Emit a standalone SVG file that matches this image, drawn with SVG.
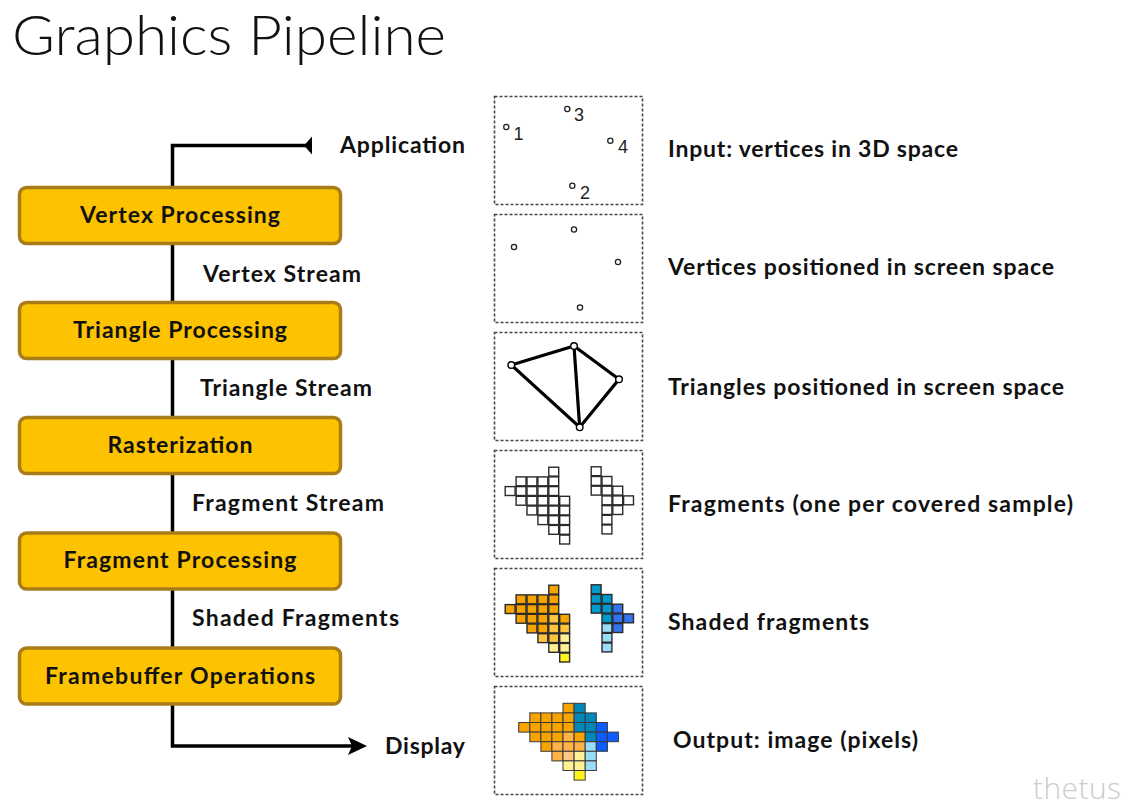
<svg xmlns="http://www.w3.org/2000/svg" width="1129" height="807" viewBox="0 0 1129 807">
<style>
.title{font-family:Lato,"Open Sans",sans-serif;font-weight:300;font-size:55px;fill:#111}
.lbl{font-family:Lato,"Noto Sans",sans-serif;font-weight:700;font-size:23px;fill:#111}
.box{fill:#FDC300;stroke:#A97C1A;stroke-width:3.5}
.panel{fill:#fff;stroke:#444;stroke-width:1.6;stroke-dasharray:3 2}
.dot{fill:#fff;stroke:#222;stroke-width:1.3}
.num{font-family:"Liberation Sans",Arial,sans-serif;font-size:18px;fill:#222}
.edge{stroke:#000;stroke-width:3.2;fill:none;stroke-linecap:round}
.vtx{fill:#fff;stroke:#000;stroke-width:1.4}
.frag{fill:#fff;stroke:#2a2a2a;stroke-width:1.4}
.sh{stroke:#2a2a2a;stroke-width:1.4}
.out{stroke:#3a3a3a;stroke-width:1}
.O{fill:#F7A300}.LO{fill:#FFC43D}.LLO{fill:#FFC880}.PY{fill:#FFF194}.Y{fill:#FFF21F}
.T{fill:#0099CC}.B{fill:#3373F0}.LB{fill:#99DDF7}.T2{fill:#0088BB}.B2{fill:#0A5CFF}.LO2{fill:#FFB347}
.conn{stroke:#000;stroke-width:3.5;fill:none}
.wm{font-family:"Open Sans","Noto Sans",sans-serif;font-weight:300;font-size:30px;fill:#cccccc}
</style>
<defs>
<marker id="startTri" markerUnits="userSpaceOnUse" markerWidth="10" markerHeight="20" refX="0" refY="9.5" orient="auto" viewBox="0 0 10 20">
<path d="M0,0.5 L8,9.5 L0,18.5 z" fill="#000"/>
</marker>
<marker id="endArrow" markerUnits="userSpaceOnUse" markerWidth="22" markerHeight="20" refX="7" refY="9.5" orient="auto" viewBox="0 0 22 20">
<path d="M0,0.5 L19,9.5 L0,18.5 L4,9.5 z" fill="#000"/>
</marker>
</defs>
<rect width="1129" height="807" fill="#fff"/>
<text class="title" x="12" y="55" textLength="434" lengthAdjust="spacingAndGlyphs">Graphics Pipeline</text>

<g id="connectors">
<path class="conn" d="M312,145.5 H172.5 V746 H355" marker-start="url(#startTri)" marker-end="url(#endArrow)"/>
</g>

<g id="vertex-processing"><rect class="box" x="19.5" y="187.5" width="321" height="56" rx="7"/><text class="lbl" x="180" y="222.5" text-anchor="middle" textLength="200">Vertex Processing</text></g>
<g id="triangle-processing"><rect class="box" x="19.5" y="302.5" width="321" height="56" rx="7"/><text class="lbl" x="180" y="337.5" text-anchor="middle" textLength="214">Triangle Processing</text></g>
<g id="rasterization"><rect class="box" x="19.5" y="417.5" width="321" height="56" rx="7"/><text class="lbl" x="180" y="452.5" text-anchor="middle" textLength="145">Rasterization</text></g>
<g id="fragment-processing"><rect class="box" x="19.5" y="533" width="321" height="56" rx="7"/><text class="lbl" x="180" y="568" text-anchor="middle" textLength="233">Fragment Processing</text></g>
<g id="framebuffer-operations"><rect class="box" x="19.5" y="648" width="321" height="56" rx="7"/><text class="lbl" x="180" y="683.5" text-anchor="middle" textLength="270">Framebuffer Operations</text></g>

<g id="application"><text class="lbl" x="340" y="153" textLength="125">Application</text></g>
<g id="vertex-stream"><text class="lbl" x="203" y="281.5" textLength="158">Vertex Stream</text></g>
<g id="triangle-stream"><text class="lbl" x="200" y="395.5" textLength="172">Triangle Stream</text></g>
<g id="fragment-stream"><text class="lbl" x="192" y="510.5" textLength="192">Fragment Stream</text></g>
<g id="shaded-fragments-label"><text class="lbl" x="192" y="626" textLength="207">Shaded Fragments</text></g>
<g id="display"><text class="lbl" x="385" y="753.5" textLength="80">Display</text></g>

<g id="desc">
<text class="lbl" x="668" y="157" textLength="290">Input: vertices in 3D space</text>
<text class="lbl" x="668" y="275" textLength="386">Vertices positioned in screen space</text>
<text class="lbl" x="668" y="394.5" textLength="396">Triangles positioned in screen space</text>
<text class="lbl" x="668" y="512" textLength="405">Fragments (one per covered sample)</text>
<text class="lbl" x="668" y="630" textLength="201">Shaded fragments</text>
<text class="lbl" x="673" y="748" textLength="245">Output: image (pixels)</text>
</g>

<g id="panel-input">
<rect class="panel" x="494.5" y="96.5" width="148" height="108"/>
<circle class="dot" cx="506.3" cy="127" r="2.6"/><text class="num" x="513.5" y="140">1</text>
<circle class="dot" cx="567.3" cy="109" r="2.6"/><text class="num" x="574" y="121">3</text>
<circle class="dot" cx="610.3" cy="140.7" r="2.6"/><text class="num" x="618" y="152.5">4</text>
<circle class="dot" cx="572.3" cy="185.7" r="2.6"/><text class="num" x="580" y="198.5">2</text>
</g>

<g id="panel-screen">
<rect class="panel" x="494.5" y="214.5" width="148" height="108"/>
<circle class="dot" cx="514" cy="247" r="2.6"/>
<circle class="dot" cx="574" cy="229.5" r="2.6"/>
<circle class="dot" cx="618" cy="262" r="2.6"/>
<circle class="dot" cx="580" cy="307.5" r="2.6"/>
</g>

<g id="panel-triangles">
<rect class="panel" x="494.5" y="332.5" width="148" height="108"/>
<path class="edge" d="M511.3,365 L574,346 L619,379.3 L579.7,427.3 Z"/>
<path class="edge" d="M574,346 L579.7,427.3" stroke-width="4"/>
<circle class="vtx" cx="511.3" cy="365" r="3.3"/>
<circle class="vtx" cx="574" cy="346" r="3.3"/>
<circle class="vtx" cx="619" cy="379.3" r="3.3"/>
<circle class="vtx" cx="579.7" cy="427.3" r="3.3"/>
</g>

<g id="panel-fragments">
<rect class="panel" x="494.5" y="450.5" width="148" height="108"/>
<g class="frag">
<rect x="548.8" y="467.2" width="9.9" height="8.9"/>
<rect x="516.1" y="476.9" width="9.9" height="8.9"/><rect x="527" y="476.9" width="9.9" height="8.9"/><rect x="537.9" y="476.9" width="9.9" height="8.9"/><rect x="548.8" y="476.9" width="9.9" height="8.9"/>
<rect x="505.2" y="486.6" width="9.9" height="8.9"/><rect x="516.1" y="486.6" width="9.9" height="8.9"/><rect x="527" y="486.6" width="9.9" height="8.9"/><rect x="537.9" y="486.6" width="9.9" height="8.9"/><rect x="548.8" y="486.6" width="9.9" height="8.9"/>
<rect x="516.1" y="496.3" width="9.9" height="8.9"/><rect x="527" y="496.3" width="9.9" height="8.9"/><rect x="537.9" y="496.3" width="9.9" height="8.9"/><rect x="548.8" y="496.3" width="9.9" height="8.9"/><rect x="559.7" y="496.3" width="9.9" height="8.9"/>
<rect x="527" y="506" width="9.9" height="8.9"/><rect x="537.9" y="506" width="9.9" height="8.9"/><rect x="548.8" y="506" width="9.9" height="8.9"/><rect x="559.7" y="506" width="9.9" height="8.9"/>
<rect x="537.9" y="515.7" width="9.9" height="8.9"/><rect x="548.8" y="515.7" width="9.9" height="8.9"/><rect x="559.7" y="515.7" width="9.9" height="8.9"/>
<rect x="548.8" y="525.4" width="9.9" height="8.9"/><rect x="559.7" y="525.4" width="9.9" height="8.9"/>
<rect x="559.7" y="535.1" width="9.9" height="8.9"/>
<rect x="591.2" y="466.8" width="9.9" height="8.9"/>
<rect x="591.2" y="476.5" width="9.9" height="8.9"/><rect x="602" y="476.5" width="9.9" height="8.9"/>
<rect x="591.2" y="486.2" width="9.9" height="8.9"/><rect x="602" y="486.2" width="9.9" height="8.9"/><rect x="612.8" y="486.2" width="9.9" height="8.9"/>
<rect x="602" y="495.9" width="9.9" height="8.9"/><rect x="612.8" y="495.9" width="9.9" height="8.9"/><rect x="623.6" y="495.9" width="9.9" height="8.9"/>
<rect x="602" y="505.6" width="9.9" height="8.9"/><rect x="612.8" y="505.6" width="9.9" height="8.9"/>
<rect x="602" y="515.3" width="9.9" height="8.9"/>
<rect x="602" y="525" width="9.9" height="8.9"/>
</g>
</g>

<g id="panel-shaded">
<rect class="panel" x="494.5" y="568.5" width="148" height="108"/>
<g class="sh">
<rect class="O" x="548.8" y="585.2" width="9.9" height="8.9"/>
<rect class="O" x="516.1" y="594.9" width="9.9" height="8.9"/><rect class="O" x="527" y="594.9" width="9.9" height="8.9"/><rect class="O" x="537.9" y="594.9" width="9.9" height="8.9"/><rect class="O" x="548.8" y="594.9" width="9.9" height="8.9"/>
<rect class="O" x="505.2" y="604.6" width="9.9" height="8.9"/><rect class="O" x="516.1" y="604.6" width="9.9" height="8.9"/><rect class="O" x="527" y="604.6" width="9.9" height="8.9"/><rect class="O" x="537.9" y="604.6" width="9.9" height="8.9"/><rect class="O" x="548.8" y="604.6" width="9.9" height="8.9"/>
<rect class="O" x="516.1" y="614.3" width="9.9" height="8.9"/><rect class="O" x="527" y="614.3" width="9.9" height="8.9"/><rect class="O" x="537.9" y="614.3" width="9.9" height="8.9"/><rect class="LO" x="548.8" y="614.3" width="9.9" height="8.9"/><rect class="O" x="559.7" y="614.3" width="9.9" height="8.9"/>
<rect class="O" x="527" y="624" width="9.9" height="8.9"/><rect class="O" x="537.9" y="624" width="9.9" height="8.9"/><rect class="LO" x="548.8" y="624" width="9.9" height="8.9"/><rect class="LO" x="559.7" y="624" width="9.9" height="8.9"/>
<rect class="LO" x="537.9" y="633.7" width="9.9" height="8.9"/><rect class="LO" x="548.8" y="633.7" width="9.9" height="8.9"/><rect class="PY" x="559.7" y="633.7" width="9.9" height="8.9"/>
<rect class="PY" x="548.8" y="643.4" width="9.9" height="8.9"/><rect class="PY" x="559.7" y="643.4" width="9.9" height="8.9"/>
<rect class="Y" x="559.7" y="653.1" width="9.9" height="8.9"/>
<rect class="T" x="591.2" y="584.8" width="9.9" height="8.9"/>
<rect class="T" x="591.2" y="594.5" width="9.9" height="8.9"/><rect class="T" x="602" y="594.5" width="9.9" height="8.9"/>
<rect class="T" x="591.2" y="604.2" width="9.9" height="8.9"/><rect class="T" x="602" y="604.2" width="9.9" height="8.9"/><rect class="B" x="612.8" y="604.2" width="9.9" height="8.9"/>
<rect class="T" x="602" y="613.9" width="9.9" height="8.9"/><rect class="B" x="612.8" y="613.9" width="9.9" height="8.9"/><rect class="B" x="623.6" y="613.9" width="9.9" height="8.9"/>
<rect class="LB" x="602" y="623.6" width="9.9" height="8.9"/><rect class="B" x="612.8" y="623.6" width="9.9" height="8.9"/>
<rect class="LB" x="602" y="633.3" width="9.9" height="8.9"/>
<rect class="LB" x="602" y="643" width="9.9" height="8.9"/>
</g>
</g>

<g id="panel-output">
<rect class="panel" x="494.5" y="686.5" width="148" height="108"/>
<g class="out">
<rect class="O" x="563" y="703.3" width="11.1" height="9.6"/><rect class="T2" x="574.1" y="703.3" width="11.1" height="9.6"/>
<rect class="O" x="529.8" y="712.9" width="11.1" height="9.6"/><rect class="O" x="540.9" y="712.9" width="11.1" height="9.6"/><rect class="O" x="551.9" y="712.9" width="11.1" height="9.6"/><rect class="O" x="563" y="712.9" width="11.1" height="9.6"/><rect class="T2" x="574.1" y="712.9" width="11.1" height="9.6"/><rect class="T2" x="585.2" y="712.9" width="11.1" height="9.6"/>
<rect class="O" x="518.7" y="722.5" width="11.1" height="9.6"/><rect class="O" x="529.8" y="722.5" width="11.1" height="9.6"/><rect class="O" x="540.9" y="722.5" width="11.1" height="9.6"/><rect class="O" x="551.9" y="722.5" width="11.1" height="9.6"/><rect class="O" x="563" y="722.5" width="11.1" height="9.6"/><rect class="T2" x="574.1" y="722.5" width="11.1" height="9.6"/><rect class="T2" x="585.2" y="722.5" width="11.1" height="9.6"/><rect class="B2" x="596.3" y="722.5" width="11.1" height="9.6"/>
<rect class="O" x="529.8" y="732.1" width="11.1" height="9.6"/><rect class="O" x="540.9" y="732.1" width="11.1" height="9.6"/><rect class="O" x="551.9" y="732.1" width="11.1" height="9.6"/><rect class="LO2" x="563" y="732.1" width="11.1" height="9.6"/><rect class="O" x="574.1" y="732.1" width="11.1" height="9.6"/><rect class="T2" x="585.2" y="732.1" width="11.1" height="9.6"/><rect class="B2" x="596.3" y="732.1" width="11.1" height="9.6"/><rect class="B2" x="607.3" y="732.1" width="11.1" height="9.6"/>
<rect class="O" x="540.9" y="741.7" width="11.1" height="9.6"/><rect class="LO2" x="551.9" y="741.7" width="11.1" height="9.6"/><rect class="LO2" x="563" y="741.7" width="11.1" height="9.6"/><rect class="LO2" x="574.1" y="741.7" width="11.1" height="9.6"/><rect class="LB" x="585.2" y="741.7" width="11.1" height="9.6"/><rect class="B2" x="596.3" y="741.7" width="11.1" height="9.6"/>
<rect class="LO2" x="551.9" y="751.3" width="11.1" height="9.6"/><rect class="LLO" x="563" y="751.3" width="11.1" height="9.6"/><rect class="PY" x="574.1" y="751.3" width="11.1" height="9.6"/><rect class="LB" x="585.2" y="751.3" width="11.1" height="9.6"/>
<rect class="PY" x="563" y="760.9" width="11.1" height="9.6"/><rect class="PY" x="574.1" y="760.9" width="11.1" height="9.6"/><rect class="LB" x="585.2" y="760.9" width="11.1" height="9.6"/>
<rect class="Y" x="574.1" y="770.5" width="11.1" height="9.6"/>
</g>
</g>

<text class="wm" x="1033" y="799" textLength="88">thetus</text>
</svg>
